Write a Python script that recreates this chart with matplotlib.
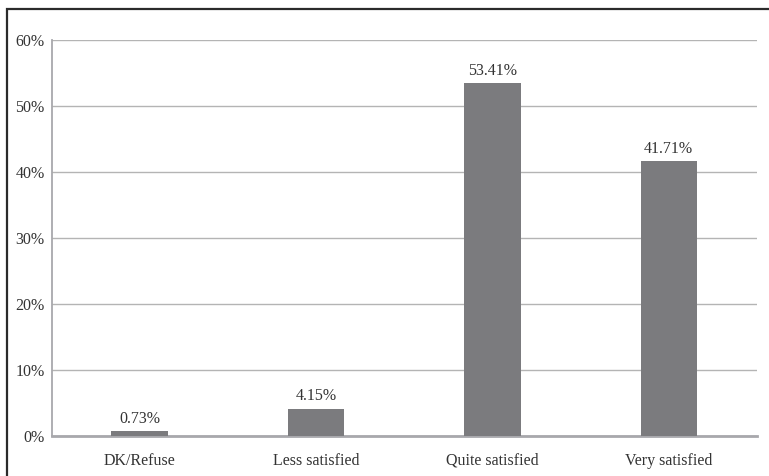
import matplotlib
matplotlib.use("Agg")
import matplotlib.pyplot as plt
from matplotlib.patches import Rectangle
from matplotlib.ticker import FuncFormatter

categories = ["DK/Refuse", "Less satisfied", "Quite satisfied", "Very satisfied"]
values = [0.73, 4.15, 53.41, 41.71]
y_ticks = [0, 10, 20, 30, 40, 50, 60]

plt.rcParams["font.family"] = ["Liberation Serif", "DejaVu Serif"]
text_color = "#333333"

fig = plt.figure(figsize=(7.69, 4.76), dpi=100)
ax = fig.add_axes([51.5 / 769, 1 - 436 / 476, (757 - 51.5) / 769, (436 - 40) / 476])

x = range(len(categories))
bars = ax.bar(x, values, width=0.32, color="#7b7b7e", zorder=3)
for b, v in zip(bars, values):
    ax.annotate(f"{v:.2f}%", (b.get_x() + b.get_width() / 2, v),
                xytext=(0, 3), textcoords="offset points",
                ha="center", va="bottom", fontsize=11.5, color=text_color)

ax.set_xlim(-0.5, len(categories) - 0.5)
ax.set_ylim(0, 60)
ax.set_yticks(y_ticks)
ax.yaxis.set_major_formatter(FuncFormatter(lambda v, _: f"{v:.0f}%"))
ax.set_xticks(list(x))
ax.set_xticklabels(categories)
ax.tick_params(axis="both", length=0, labelsize=11.5, labelcolor=text_color)
ax.tick_params(axis="y", pad=5)
ax.tick_params(axis="x", pad=12)
ax.grid(axis="y", color="#b4b4b4", linewidth=1.0, zorder=0)

for side in ("top", "right"):
    ax.spines[side].set_visible(False)
ax.spines["left"].set_color("#a8a8ac")
ax.spines["left"].set_linewidth(1.3)
ax.spines["bottom"].set_color("#a8a8ac")
ax.spines["bottom"].set_linewidth(2.0)

# outer frame around the chart
fig.patches.append(Rectangle((7 / 769, -0.2), 2.0, 0.2 + (1 - 9 / 476),
                             transform=fig.transFigure, fill=False,
                             edgecolor="#2b2b2b", linewidth=1.6))

fig.savefig("out.png", dpi=100)
